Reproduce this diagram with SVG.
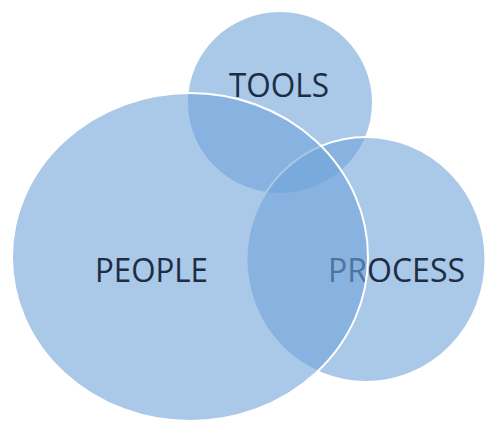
<svg xmlns="http://www.w3.org/2000/svg" width="490" height="422" viewBox="0 0 490 422">
<style>
.c{fill:#71a3d9;fill-opacity:0.6;stroke:#ffffff;stroke-width:2}
#tools .c{stroke:none}
.t{font-family:"Open Sans","Liberation Sans",sans-serif;font-size:33px;fill:#1d2d44;text-anchor:middle}
</style>
<rect width="490" height="422" fill="#ffffff"/>
<g id="connectors"></g>
<g id="tools">
<ellipse class="c" cx="280" cy="102.5" rx="92" ry="90.5"/>
<text class="t" x="279" y="97" textLength="100" lengthAdjust="spacingAndGlyphs">TOOLS</text>
</g>
<g id="process">
<ellipse class="c" cx="366" cy="259.5" rx="119.5" ry="122.5"/>
<text class="t" x="396.5" y="282" textLength="137" lengthAdjust="spacingAndGlyphs">PROCESS</text>
</g>
<g id="people">
<ellipse class="c" cx="190" cy="257" rx="178" ry="164"/>
<text class="t" x="151.5" y="282" textLength="113" lengthAdjust="spacingAndGlyphs">PEOPLE</text>
</g>
</svg>
